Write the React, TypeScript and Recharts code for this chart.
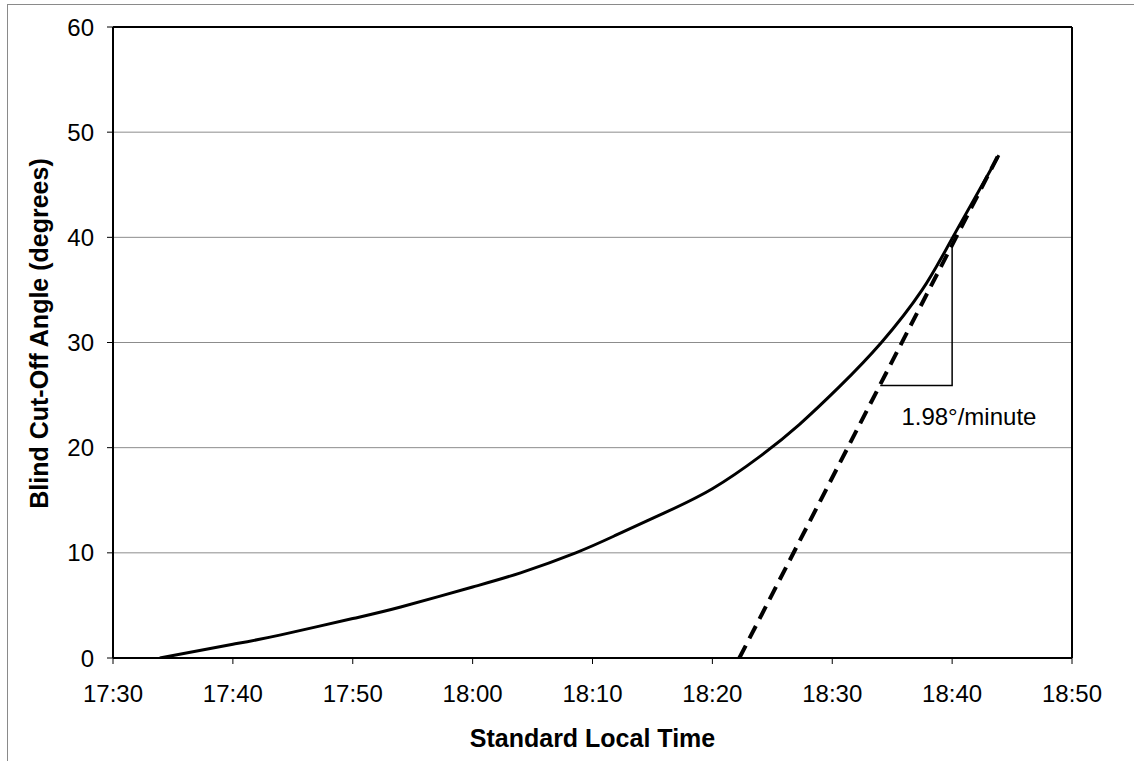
import React from 'react';
import { LineChart, Line, XAxis, YAxis, CartesianGrid, ReferenceLine, ReferenceDot, Label } from 'recharts';

// X values are minutes after 17:30
const tickMinutes = [0, 10, 20, 30, 40, 50, 60, 70, 80];
const timeLabels = ['17:30', '17:40', '17:50', '18:00', '18:10', '18:20', '18:30', '18:40', '18:50'];
const angleTicks = [0, 10, 20, 30, 40, 50, 60];

const curveMinutes = [3.9, 10, 14, 20, 24, 30, 34, 38.6, 42, 46, 50, 54, 57.25, 60.6, 64.1, 67.5, 70, 73.9];
const curveAngles = [0, 1.3, 2.2, 3.75, 4.85, 6.75, 8.1, 10.0, 11.7, 13.8, 16.1, 19.2, 22.2, 25.8, 30.0, 35.0, 39.9, 47.8];

const tangentMinutes = [52.25, 73.9];
const tangentAngles = [0, 47.9];

const triangleMinutes = [64, 70, 70];
const triangleAngles = [25.9, 25.9, 39.2];

const slopeLabel = '1.98°/minute';
const slopeLabelMinute = 71.4;
const slopeLabelAngle = 23.0;

const xTitle = 'Standard Local Time';
const yTitle = 'Blind Cut-Off Angle (degrees)';

const curveData = curveMinutes.map((t, i) => ({ t, y: curveAngles[i] }));
const tangentData = tangentMinutes.map((t, i) => ({ t, y: tangentAngles[i] }));
const triangleData = triangleMinutes.map((t, i) => ({ t, y: triangleAngles[i] }));

const FONT = '"Liberation Sans", Arial, sans-serif';

const fmtTime = (v: number) => {
  const i = tickMinutes.indexOf(v);
  return i >= 0 ? timeLabels[i] : String(v);
};

const XTitle = (props: any) => {
  const vb = props.viewBox || {};
  const cx = vb.x + vb.width / 2;
  const cy = vb.y + 80;
  return (
    <text x={cx} y={cy} textAnchor="middle" dominantBaseline="central" fontFamily={FONT} fontSize={25} fontWeight="bold" fill="#000">
      {xTitle}
    </text>
  );
};

const YTitle = (props: any) => {
  const vb = props.viewBox || {};
  const cx = vb.x + 39;
  const cy = vb.y + vb.height / 2 - 9;
  return (
    <text x={cx} y={cy} transform={`rotate(-90 ${cx} ${cy})`} textAnchor="middle" dominantBaseline="central" fontFamily={FONT} fontSize={25} fontWeight="bold" fill="#000">
      {yTitle}
    </text>
  );
};

export default function App() {
  return (
    <div style={{ position: 'absolute', left: 0, top: 0, width: 1134, height: 761, background: '#fff', overflow: 'hidden' }}>
      <div style={{ position: 'absolute', left: 7, top: 4, width: 1127, height: 757, borderTop: '1px solid #8a8a8a', borderLeft: '1px solid #8a8a8a', boxSizing: 'border-box' }} />
      <div style={{ position: 'absolute', left: 0, top: 0 }}>
        <LineChart width={1134} height={761} margin={{ top: 27, right: 62, bottom: 0, left: 0 }}>
          <CartesianGrid horizontal={true} vertical={false} stroke="#8c8c8c" strokeWidth={1} />
          <XAxis
            type="number"
            dataKey="t"
            domain={[0, 80]}
            ticks={tickMinutes}
            tickFormatter={fmtTime}
            allowDataOverflow
            height={103}
            axisLine={{ stroke: '#000', strokeWidth: 2 }}
            tickLine={{ stroke: '#000', strokeWidth: 1 }}
            tickSize={6}
            tickMargin={21}
            tick={{ fill: '#000', fontSize: 24, fontFamily: FONT }}
          >
            <Label content={<XTitle />} />
          </XAxis>
          <YAxis
            type="number"
            domain={[0, 60]}
            ticks={angleTicks}
            allowDataOverflow
            width={113}
            axisLine={{ stroke: '#000', strokeWidth: 2 }}
            tickLine={{ stroke: '#000', strokeWidth: 1 }}
            tickSize={6}
            tickMargin={13}
            tick={{ fill: '#000', fontSize: 24, fontFamily: FONT }}
          >
            <Label content={<YTitle />} />
          </YAxis>
          <ReferenceLine y={60} stroke="#000" strokeWidth={2} />
          <ReferenceLine x={80} stroke="#000" strokeWidth={2} />
          <Line data={curveData} dataKey="y" type="natural" stroke="#000" strokeWidth={3} dot={false} isAnimationActive={false} />
          <Line data={tangentData} dataKey="y" type="linear" stroke="#000" strokeWidth={4} strokeDasharray="14 8" dot={false} isAnimationActive={false} />
          <Line data={triangleData} dataKey="y" type="linear" stroke="#000" strokeWidth={1.5} dot={false} isAnimationActive={false} />
          <ReferenceDot x={slopeLabelMinute} y={slopeLabelAngle} r={0} fill="none" stroke="none">
            <Label value={slopeLabel} position="center" fill="#000" fontSize={24} fontFamily={FONT} />
          </ReferenceDot>
        </LineChart>
      </div>
    </div>
  );
}
